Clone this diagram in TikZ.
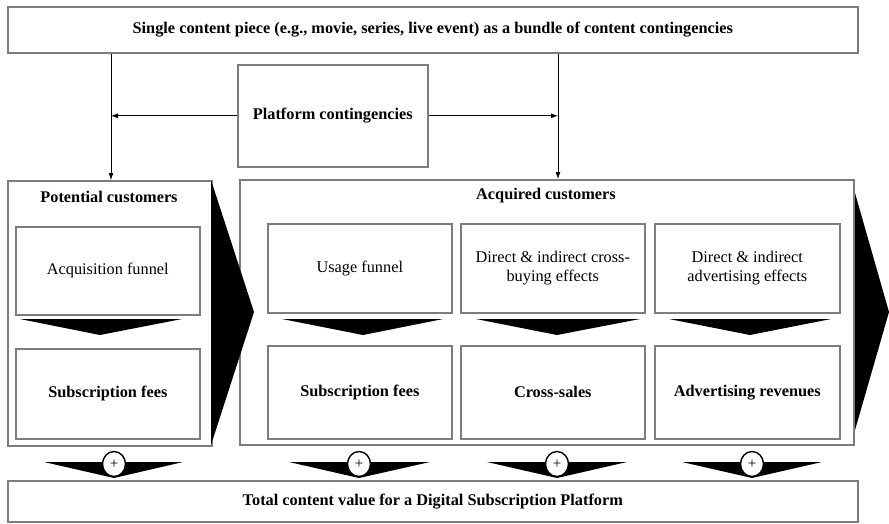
\documentclass[tikz,border=0pt]{standalone}
\usepackage{fontspec}
\setmainfont{Liberation Serif}
\usetikzlibrary{arrows.meta,shapes.geometric}
\definecolor{bordergray}{RGB}{125,125,125}
\begin{document}
\begin{tikzpicture}[x=1pt,y=-1pt,
  box/.style={draw=bordergray,line width=1.6pt,fill=white,anchor=north west,inner sep=2pt,align=center,
    font=\fontsize{16.3}{18.5}\selectfont},
  bbox/.style={box,font=\fontsize{16.3}{18.5}\selectfont\bfseries},
  title/.style={font=\fontsize{16.3}{18.5}\selectfont\bfseries},
  arr/.style={draw=black,line width=0.8pt,-{Latex[length=7pt,width=5pt]}},
  chev/.style={fill=black,draw=none},
  plus/.style={ellipse,draw=black,line width=1.4pt,fill=white,minimum width=23pt,minimum height=25pt,inner sep=0pt,font=\fontsize{15}{15}\selectfont}
]
\useasboundingbox (0,0) rectangle (889,523);
% top
\node[bbox,minimum width=850,minimum height=46] (top) at (7,6) {Single content piece (e.g., movie, series, live event) as a bundle of content contingencies};
% platform
\node[bbox,minimum width=190,minimum height=102] (plat) at (237,64) {Platform contingencies};
% right outer
\draw[chev] (851,179) -- (889,312) -- (851,444) -- cycle;
\node[box,minimum width=614,minimum height=265] (ro) at (239,179) {};
\node[title] (rot) at (546,196) {Acquired customers};
\node[box,minimum width=184,minimum height=89] (uf) at (267,223) {Usage funnel};
\node[box,minimum width=184,minimum height=89] (cb) at (460,223) {Direct \& indirect cross-\\buying effects};
\node[box,minimum width=185,minimum height=89] (ad) at (654,223) {Direct \& indirect\\advertising effects};
\node[bbox,minimum width=184,minimum height=93] (sf2) at (267,345) {Subscription fees};
\node[bbox,minimum width=184,minimum height=93] (cs) at (460,345) {Cross-sales};
\node[bbox,minimum width=185,minimum height=93] (ar) at (654,345) {Advertising revenues};
\draw[chev] (282,319) -- (443,319) -- (363,335) -- cycle;
\draw[chev] (476,319) -- (640,319) -- (557,335) -- cycle;
\draw[chev] (669,319) -- (831,319) -- (750,335) -- cycle;
% left outer
\node[box,minimum width=204,minimum height=265] (lo) at (7,180) {};
\draw[chev] (211,180) -- (254,312) -- (211,445) -- cycle;
\node[title] (lot) at (109,197) {Potential customers};
\node[box,minimum width=184,minimum height=88] (af) at (15,226) {Acquisition funnel};
\node[bbox,minimum width=184,minimum height=90] (sf1) at (15,348) {Subscription fees};
\draw[chev] (20,319) -- (182,319) -- (100,335) -- cycle;
% bottom
\node[bbox,minimum width=850,minimum height=41] (bot) at (7,480) {Total content value for a Digital Subscription Platform};
\draw[chev] (44,462) -- (183,462) -- (114,478) -- cycle;
\draw[chev] (289,462) -- (430,462) -- (359,478) -- cycle;
\draw[chev] (487,462) -- (627,462) -- (557,478) -- cycle;
\draw[chev] (682,462) -- (822,462) -- (752,478) -- cycle;
\node[plus] (p1) at (114,464) {+};
\node[plus] (p2) at (359,464) {+};
\node[plus] (p3) at (557,464) {+};
\node[plus] (p4) at (752,464) {+};
% arrows
\coordinate (lA) at (111,0);
\coordinate (rA) at (558,0);
\draw[arr] (top.south -| lA) -- (lo.north -| lA);
\draw[arr] (top.south -| rA) -- (ro.north -| rA);
\draw[arr] (plat.west) -- (plat.west -| lA);
\draw[arr] (plat.east) -- (plat.east -| rA);
\end{tikzpicture}
\end{document}
